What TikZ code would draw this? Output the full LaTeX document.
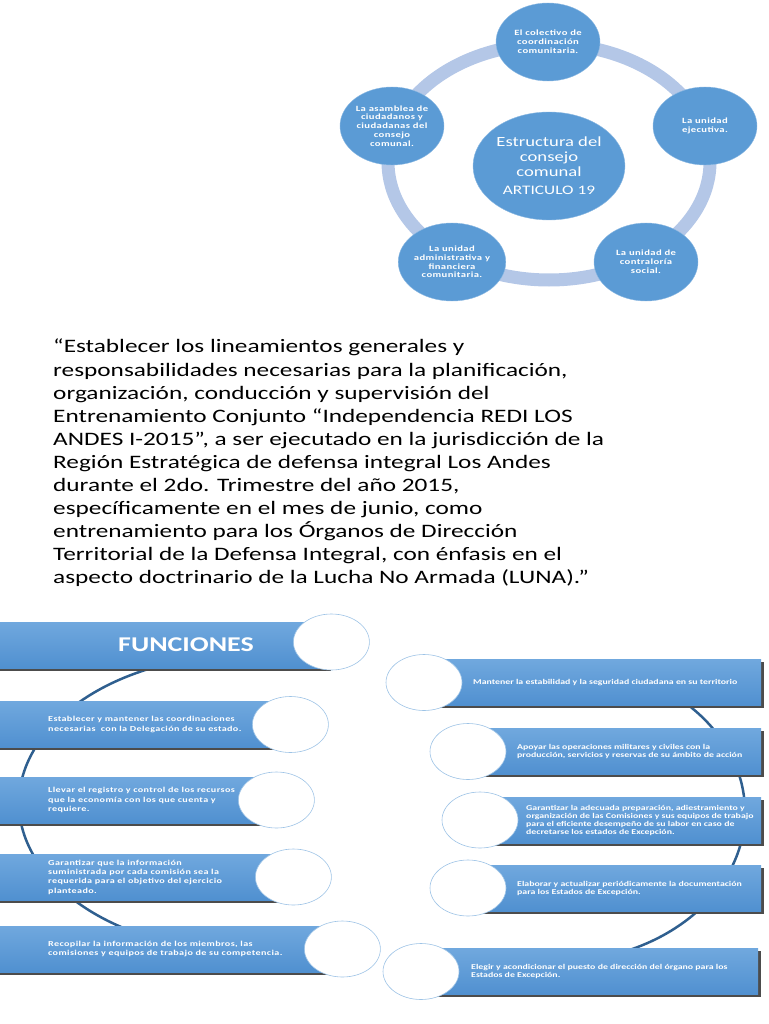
\documentclass[tikz,border=0pt]{standalone}
\usepackage{fontspec}
\setmainfont{Carlito}[FakeStretch=1.33]
\newfontfamily\spacedfont{Carlito}[FakeStretch=1.33, LetterSpace=5]
\usetikzlibrary{positioning, shapes.geometric, shadings, shadows}
\definecolor{ringblue}{HTML}{B4C7E7}
\definecolor{bubbleblue}{HTML}{5B9BD5}
\definecolor{barhi}{HTML}{70A8DE}
\definecolor{barlo}{HTML}{5090D0}
\definecolor{knobline}{HTML}{9DC3E6}
\definecolor{spineblue}{HTML}{2F5F8F}

\begin{document}
\begin{tikzpicture}[
    x=1pt, y=-1pt,
    ring/.style={draw=ringblue, line width=13pt},
    bubble/.style={ellipse, fill=bubbleblue, draw=bubbleblue!70!white, minimum width=104pt, minimum height=78pt, inner sep=0pt, align=center, text=white, font=\spacedfont\bfseries\fontsize{8}{8.8}\selectfont},
    hub/.style={bubble, minimum width=152pt, minimum height=108pt, font=\fontsize{14}{15}\selectfont},
    lbar/.style={rectangle, anchor=west, top color=barhi, bottom color=barlo, draw=none, minimum height=46pt, inner sep=0pt, drop shadow={shadow xshift=0pt, shadow yshift=-2.5pt, fill=black!70, opacity=1}},
    rbar/.style={lbar, drop shadow={shadow xshift=2.5pt, shadow yshift=-2.5pt, fill=black!70, opacity=1}},
    knob/.style={ellipse, fill=white, draw=knobline, line width=0.6pt, minimum width=76pt, minimum height=56pt},
    ltext/.style={align=left, text=white, inner sep=0pt, font=\spacedfont\bfseries\fontsize{7.6}{9.3}\selectfont},
    rtext/.style={align=left, text=white, inner sep=0pt, font=\bfseries\fontsize{7.4}{8}\selectfont},
    spine/.style={draw=spineblue, line width=2.5pt}
]
    \useasboundingbox (0,0) rectangle (768,1024);

    % estructura del consejo comunal
    \draw[ring] (549,162) ellipse [x radius=161, y radius=118];
    \node[hub] (hub) at (549,166) {Estructura del\\consejo\\comunal\\[3pt]{\fontsize{13}{13}\selectfont ARTICULO 19}};
    \node[bubble] (colectivo) at (548,42) {El colectivo de\\coordinación\\comunitaria.};
    \node[bubble] (ejecutiva) at (705,126) {La unidad\\ejecutiva.};
    \node[bubble] (contraloria) at (646,262) {La unidad de\\contraloría\\social.};
    \node[bubble] (financiera) at (452,262) {La unidad\\administrativa y\\financiera\\comunitaria.};
    \node[bubble] (asamblea) at (392,126) {La asamblea de\\ciudadanos y\\ciudadanas del\\consejo\\comunal.};

    % cita
    \node[anchor=north west, align=left, inner sep=0pt, font=\fontsize{19}{23.1}\selectfont] (cita) at (53,339) {%
        “Establecer los lineamientos generales y\\
        responsabilidades necesarias para la planificación,\\
        organización, conducción y supervisión del\\
        Entrenamiento Conjunto “Independencia REDI LOS\\
        ANDES I-2015”, a ser ejecutado en la jurisdicción de la\\
        Región Estratégica de defensa integral Los Andes\\
        durante el 2do. Trimestre del año 2015,\\
        específicamente en el mes de junio, como\\
        entrenamiento para los Órganos de Dirección\\
        Territorial de la Defensa Integral, con énfasis en el\\
        aspecto doctrinario de la Lucha No Armada (LUNA).”};

    % funciones, izquierda
    \draw[spine] (244,803) ++(250:225 and 148) arc[start angle=250, end angle=120, x radius=225, y radius=148];
    \node[lbar, minimum width=331pt] (f1) at (0,645) {};
    \node[lbar, minimum width=290pt] (f2) at (0,724.5) {};
    \node[lbar, minimum width=276pt] (f3) at (0,800) {};
    \node[lbar, minimum width=293pt] (f4) at (0,877) {};
    \node[lbar, minimum width=342pt] (f5) at (0,949) {};
    \node[knob] (k1) at ([yshift=3pt]f1.east) {};
    \node[knob] (k2) at (f2.east) {};
    \node[knob] (k3) at (f3.east) {};
    \node[knob] (k4) at (f4.east) {};
    \node[knob] (k5) at (f5.east) {};
    \node[text=white, inner sep=0pt, font=\bfseries\fontsize{21}{21}\selectfont, right=118pt of f1.west] (titulo) {FUNCIONES};
    \node[ltext, right=48pt of f2.west] (f2t) {Establecer y mantener las coordinaciones\\necesarias\ \ con la Delegación de su estado.};
    \node[ltext, right=48pt of f3.west] (f3t) {Llevar el registro y control de los recursos\\que la economía con los que cuenta y\\requiere.};
    \node[ltext, right=48pt of f4.west] (f4t) {Garantizar que la información\\suministrada por cada comisión sea la\\requerida para el objetivo del ejercicio\\planteado.};
    \node[ltext, right=48pt of f5.west] (f5t) {Recopilar la información de los miembros, las\\comisiones y equipos de trabajo de su competencia.};

    % funciones, derecha
    \draw[spine] (555,812) ++(-50:190 and 150) arc[start angle=-50, end angle=68, x radius=190, y radius=150];
    \node[rbar, minimum width=337pt] (g1) at (424,682.5) {};
    \node[rbar, minimum width=293pt] (g2) at (468,751.5) {};
    \node[rbar, minimum width=281pt] (g3) at (480,820) {};
    \node[rbar, minimum width=293pt] (g4) at (468,888) {};
    \node[rbar, minimum width=337pt] (g5) at (421,971.5) {};
    \node[knob] (m1) at (g1.west) {};
    \node[knob] (m2) at (g2.west) {};
    \node[knob] (m3) at (g3.west) {};
    \node[knob] (m4) at (g4.west) {};
    \node[knob] (m5) at (g5.west) {};
    \node[rtext, right=49pt of g1.west] (g1t) {Mantener la estabilidad y la seguridad ciudadana en su territorio};
    \node[rtext, right=49pt of g2.west] (g2t) {Apoyar las operaciones militares y civiles con la\\producción, servicios y reservas de su ámbito de acción};
    \node[rtext, right=46pt of g3.west] (g3t) {Garantizar la adecuada preparación, adiestramiento y\\organización de las Comisiones y sus equipos de trabajo\\para el eficiente desempeño de su labor en caso de\\decretarse los estados de Excepción.};
    \node[rtext, right=49pt of g4.west] (g4t) {Elaborar y actualizar periódicamente la documentación\\para los Estados de Excepción.};
    \node[rtext, right=50pt of g5.west] (g5t) {Elegir y acondicionar el puesto de dirección del órgano para los\\Estados de Excepción.};
\end{tikzpicture}
\end{document}
